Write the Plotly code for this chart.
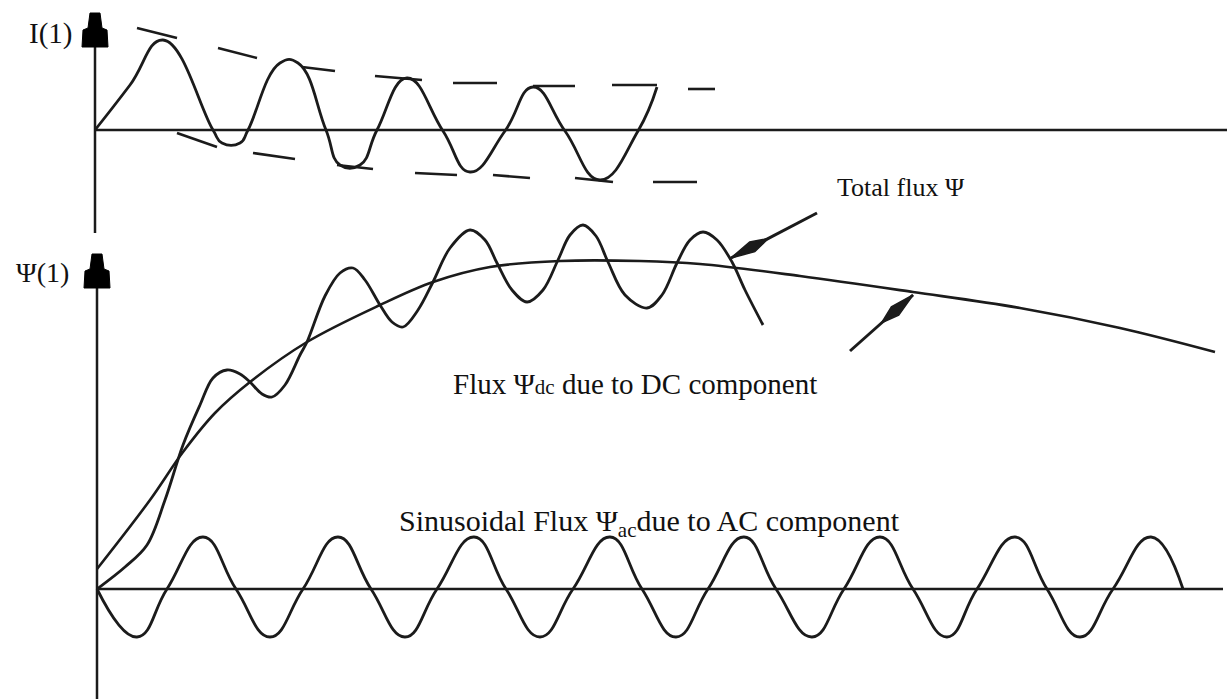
import math
import plotly.graph_objects as go

# ------------------------------------------------------------------
# Data (horizontal = time position,
# vertical = drawing height; the y axis is reversed so values grow down)
# ------------------------------------------------------------------

# Top panel: inrush current I(1)
current_x = [95, 130, 163, 213, 222, 240, 248, 280, 298, 326, 340, 360, 377,
             407, 443, 470, 505, 533, 565, 600, 638, 657]
current_y = [130, 85, 40, 130, 143, 143, 130, 63, 63, 130, 165, 165, 130,
             78, 131, 172, 131, 87, 131, 180, 131, 87]

# Dashed envelopes of the current (segments separated by None)
env_upper_x = [137, 177, None, 218, 257, None, 302, 335, None, 375, 422, None,
               453, 497, None, 533, 575, None, 612, 657, None, 688, 715]
env_upper_y = [28, 38, None, 48, 58, None, 67, 71, None, 76, 80, None,
               83, 83, None, 86, 86, None, 85, 85, None, 89, 89]
env_lower_x = [177, 217, None, 253, 295, None, 337, 373, None, 415, 457, None,
               493, 530, None, 575, 613, None, 653, 697]
env_lower_y = [133, 147, None, 153, 159, None, 165, 169, None, 173, 175, None,
               175, 178, None, 178, 182, None, 182, 182]

# Lower panel: flux due to DC component (smooth curve)
dc_x = [97, 150, 183, 215, 250, 307, 380, 433, 490, 560, 640, 700, 800, 913,
        1020, 1120, 1215]
dc_y = [569, 500, 452, 413, 382, 342, 305, 282, 267, 261, 261, 264, 276, 292,
        308, 328, 352]

# Total flux (wiggly curve)
total_x = [97, 125, 147, 165, 183, 200, 213, 227, 240, 250, 262, 272, 285,
           300, 307, 325, 340, 353, 365, 380, 392, 403, 418, 433, 450, 470,
           485, 497, 512, 527, 543, 558, 570, 583, 596, 608, 625, 647, 662,
           677, 690, 703, 717, 732, 745, 763]
total_y = [589, 567, 545, 500, 445, 405, 378, 370, 374, 382, 394, 397, 385,
           355, 342, 296, 273, 268, 280, 305, 322, 327, 310, 282, 248, 230,
           240, 263, 290, 302, 290, 260, 235, 225, 236, 262, 295, 308, 295,
           263, 240, 232, 240, 262, 290, 325]

# Sinusoidal flux due to AC component
ac_x = [97, 137, 167, 203, 236, 270, 303, 338, 371, 405, 437, 474, 506, 540,
        573, 610, 642, 676, 708, 744, 776, 812, 844, 880, 913, 947, 977, 1015,
        1047, 1080, 1113, 1151, 1183]
ac_y = [589, 637, 589, 537, 589, 637, 589, 537, 589, 637, 589, 537, 589, 637,
        589, 537, 589, 637, 589, 537, 589, 637, 589, 537, 589, 637, 589, 537,
        589, 637, 589, 537, 589]

# Pointer arrows: (tail x, tail y, tip x, tip y)
pointer_total = (817, 213, 731, 258)
pointer_dc = (850, 351, 913, 295)

# ------------------------------------------------------------------
INK = "#1b1b1b"
FONT = "Liberation Serif, Times New Roman, serif"
W, H = 1227, 699

fig = go.Figure()

wave = dict(color=INK, width=2.8, shape="spline", smoothing=1.3)
curve = dict(color=INK, width=2.8, shape="spline", smoothing=1.0)
fig.add_trace(go.Scatter(x=current_x, y=current_y, mode="lines", line=wave,
                         hoverinfo="skip", name="I(1)"))
fig.add_trace(go.Scatter(x=env_upper_x, y=env_upper_y, mode="lines",
                         line=dict(color=INK, width=2.6), connectgaps=False,
                         hoverinfo="skip", name="upper envelope"))
fig.add_trace(go.Scatter(x=env_lower_x, y=env_lower_y, mode="lines",
                         line=dict(color=INK, width=2.6), connectgaps=False,
                         hoverinfo="skip", name="lower envelope"))
fig.add_trace(go.Scatter(x=dc_x, y=dc_y, mode="lines",
                         line=dict(color=INK, width=2.6, shape="spline", smoothing=1.0),
                         hoverinfo="skip", name="Flux dc"))
fig.add_trace(go.Scatter(x=total_x, y=total_y, mode="lines", line=curve,
                         hoverinfo="skip", name="Total flux"))
fig.add_trace(go.Scatter(x=ac_x, y=ac_y, mode="lines", line=wave,
                         hoverinfo="skip", name="Flux ac"))

# Axes of the diagram
axis_line = dict(color=INK, width=2.5)
shapes = [
    dict(type="line", x0=95, x1=95, y0=20, y1=233, line=axis_line),
    dict(type="line", x0=95, x1=1227, y0=130, y1=130, line=axis_line),
    dict(type="line", x0=97, x1=97, y0=265, y1=699, line=axis_line),
    dict(type="line", x0=97, x1=1223, y0=589, y1=589, line=axis_line),
]


def axis_head(xc, ytop):
    p = [(xc - 5, ytop), (xc + 5, ytop), (xc + 7, ytop + 15), (xc + 12, ytop + 17),
         (xc + 13, ytop + 34), (xc - 13, ytop + 34), (xc - 12, ytop + 17),
         (xc - 7, ytop + 15)]
    return "M " + " L ".join(f"{a:.1f},{b:.1f}" for a, b in p) + " Z"


def pointer_head(tail_x, tail_y, tip_x, tip_y, length=42, mid=24, half=5.5):
    dx, dy = tip_x - tail_x, tip_y - tail_y
    n = math.hypot(dx, dy)
    ux, uy = dx / n, dy / n
    px, py = -uy, ux
    mx, my = tip_x - ux * mid, tip_y - uy * mid
    bx, by = tip_x - ux * length, tip_y - uy * length
    p = [(tip_x, tip_y), (mx + px * half, my + py * half), (bx, by),
         (mx - px * half, my - py * half)]
    return "M " + " L ".join(f"{a:.1f},{b:.1f}" for a, b in p) + " Z"


for xc, yt in [(95, 13), (97, 254)]:
    shapes.append(dict(type="path", path=axis_head(xc, yt), fillcolor="#000",
                       line=dict(color="#000", width=1)))

for tx, ty, hx, hy in [pointer_total, pointer_dc]:
    shapes.append(dict(type="line", x0=tx, y0=ty, x1=hx, y1=hy,
                       line=dict(color=INK, width=3)))
    shapes.append(dict(type="path", path=pointer_head(tx, ty, hx, hy),
                       fillcolor=INK, line=dict(color=INK, width=1.5)))

annotations = [
    dict(x=27, y=33, text="I(1)", showarrow=False, xanchor="left", yanchor="middle",
         font=dict(size=29, family=FONT, color="#111")),
    dict(x=14, y=272, text="Ψ(1)", showarrow=False, xanchor="left", yanchor="middle",
         font=dict(size=28, family=FONT, color="#111")),
    dict(x=835, y=187, text="Total flux Ψ", showarrow=False, xanchor="left",
         yanchor="middle", font=dict(size=26, family=FONT, color="#111")),
    dict(x=451, y=384, text="Flux Ψ<span style='font-size:21px'>dc</span> due to DC component",
         showarrow=False, xanchor="left", yanchor="middle",
         font=dict(size=29, family=FONT, color="#111")),
    dict(x=397, y=523, text="Sinusoidal Flux Ψ<sub>ac</sub>due to AC component",
         showarrow=False, xanchor="left", yanchor="middle",
         font=dict(size=30, family=FONT, color="#111")),
]

fig.update_layout(
    width=W, height=H,
    margin=dict(l=0, r=0, t=0, b=0),
    paper_bgcolor="white", plot_bgcolor="white",
    showlegend=False,
    shapes=shapes,
    annotations=annotations,
    xaxis=dict(range=[0, W], visible=False, fixedrange=True),
    yaxis=dict(range=[H, 0], visible=False, fixedrange=True),
)

fig.write_html("out.html", config={"displayModeBar": False})

# remove the default page margin so the figure fills the window exactly
with open("out.html", "r", encoding="utf-8") as fh:
    page = fh.read()
page = page.replace("<head>", "<head><style>html,body{margin:0;padding:0;overflow:hidden;}</style>", 1)
with open("out.html", "w", encoding="utf-8") as fh:
    fh.write(page)
